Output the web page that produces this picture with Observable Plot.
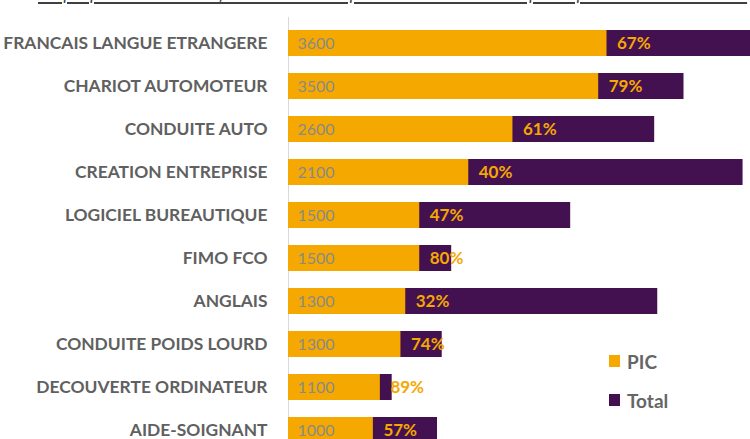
<!DOCTYPE html>
<html>
<head>
<meta charset="utf-8">
<script src="https://cdn.jsdelivr.net/npm/d3@7"></script>
<script src="https://cdn.jsdelivr.net/npm/@observablehq/plot@0.6"></script>
<style>
  html, body { margin: 0; padding: 0; background: #fff; overflow: hidden; width: 750px; height: 439px; }
  #wrap { position: relative; width: 750px; height: 439px; overflow: hidden; }
  #title { position: absolute; left: 38px; top: -17px; white-space: nowrap; font-family: Lato, sans-serif; font-style: italic; font-size: 17px; color: #404040; text-decoration: underline; text-decoration-thickness: 1.5px; text-underline-offset: 2px; }
  #chart { position: absolute; left: 0; top: 0; }
  #legend { position: absolute; left: 609px; top: 350px; font-family: Lato, sans-serif; font-weight: bold; font-size: 19px; color: #666; }
  #legend .item { display: flex; align-items: center; height: 22px; margin-bottom: 17px; }
  #legend .sw { width: 11px; height: 12px; margin-right: 7px; }
</style>
</head>
<body>
<div id="wrap">
  <div id="title">Graphique 5 : Nombre de formations suivies par des demandeurs d'emploi et part du PIC dans le total</div>
  <div id="chart"></div>
  <div id="legend"></div>
</div>
<script>
const categories = ["FRANCAIS LANGUE ETRANGERE", "CHARIOT AUTOMOTEUR", "CONDUITE AUTO", "CREATION ENTREPRISE", "LOGICIEL BUREAUTIQUE", "FIMO FCO", "ANGLAIS", "CONDUITE POIDS LOURD", "DECOUVERTE ORDINATEUR", "AIDE-SOIGNANT"];
const picValues = [3640, 3545, 2565, 2060, 1500, 1500, 1340, 1285, 1050, 970];
const totalValues = [5430, 4520, 4185, 5195, 3225, 1865, 4220, 1757, 1185, 1703];
const picLabels = ["3600", "3500", "2600", "2100", "1500", "1500", "1300", "1300", "1100", "1000"];
const pctLabels = ["67%", "79%", "61%", "40%", "47%", "80%", "32%", "74%", "89%", "57%"];
const seriesNames = ["PIC", "Total"];
const seriesColors = ["#F5A800", "#441150"];

const data = categories.map((name, i) => ({
  name, pic: picValues[i], total: totalValues[i], picLabel: picLabels[i], pct: pctLabels[i]
}));

const chart = Plot.plot({
  width: 750,
  height: 455,
  marginLeft: 288,
  marginRight: 0,
  marginTop: 17,
  marginBottom: 0,
  style: { fontFamily: "Lato, sans-serif", background: "transparent", overflow: "hidden" },
  x: { domain: [0, 5280], axis: null },
  y: { domain: categories, paddingInner: 0.4, paddingOuter: 0.23, label: null },
  marks: [
    Plot.ruleX([0], { stroke: "#d9d9d9", strokeWidth: 1 }),
    Plot.barX(data, { y: "name", x1: 0, x2: "total", fill: seriesColors[1], clip: true }),
    Plot.barX(data, { y: "name", x1: 0, x2: "pic", fill: seriesColors[0] }),
    Plot.text(data, { y: "name", x: 0, text: "picLabel", dx: 9, textAnchor: "start", fill: "#8a8a8a", fontSize: 16 }),
    Plot.text(data, { y: "name", x: "pic", text: "pct", dx: 10, textAnchor: "start", fill: seriesColors[0], fontSize: 17, fontWeight: "bold" }),
    Plot.axisY({ tickSize: 0, tickPadding: 21, fontSize: 17.4, fontWeight: "bold", fill: "#606060", label: null })
  ]
});
document.getElementById("chart").appendChild(chart);

const legend = document.getElementById("legend");
seriesNames.forEach((n, i) => {
  const item = document.createElement("div");
  item.className = "item";
  const sw = document.createElement("div");
  sw.className = "sw";
  sw.style.background = seriesColors[i];
  const t = document.createElement("span");
  t.textContent = n;
  item.appendChild(sw);
  item.appendChild(t);
  legend.appendChild(item);
});
</script>
</body>
</html>
